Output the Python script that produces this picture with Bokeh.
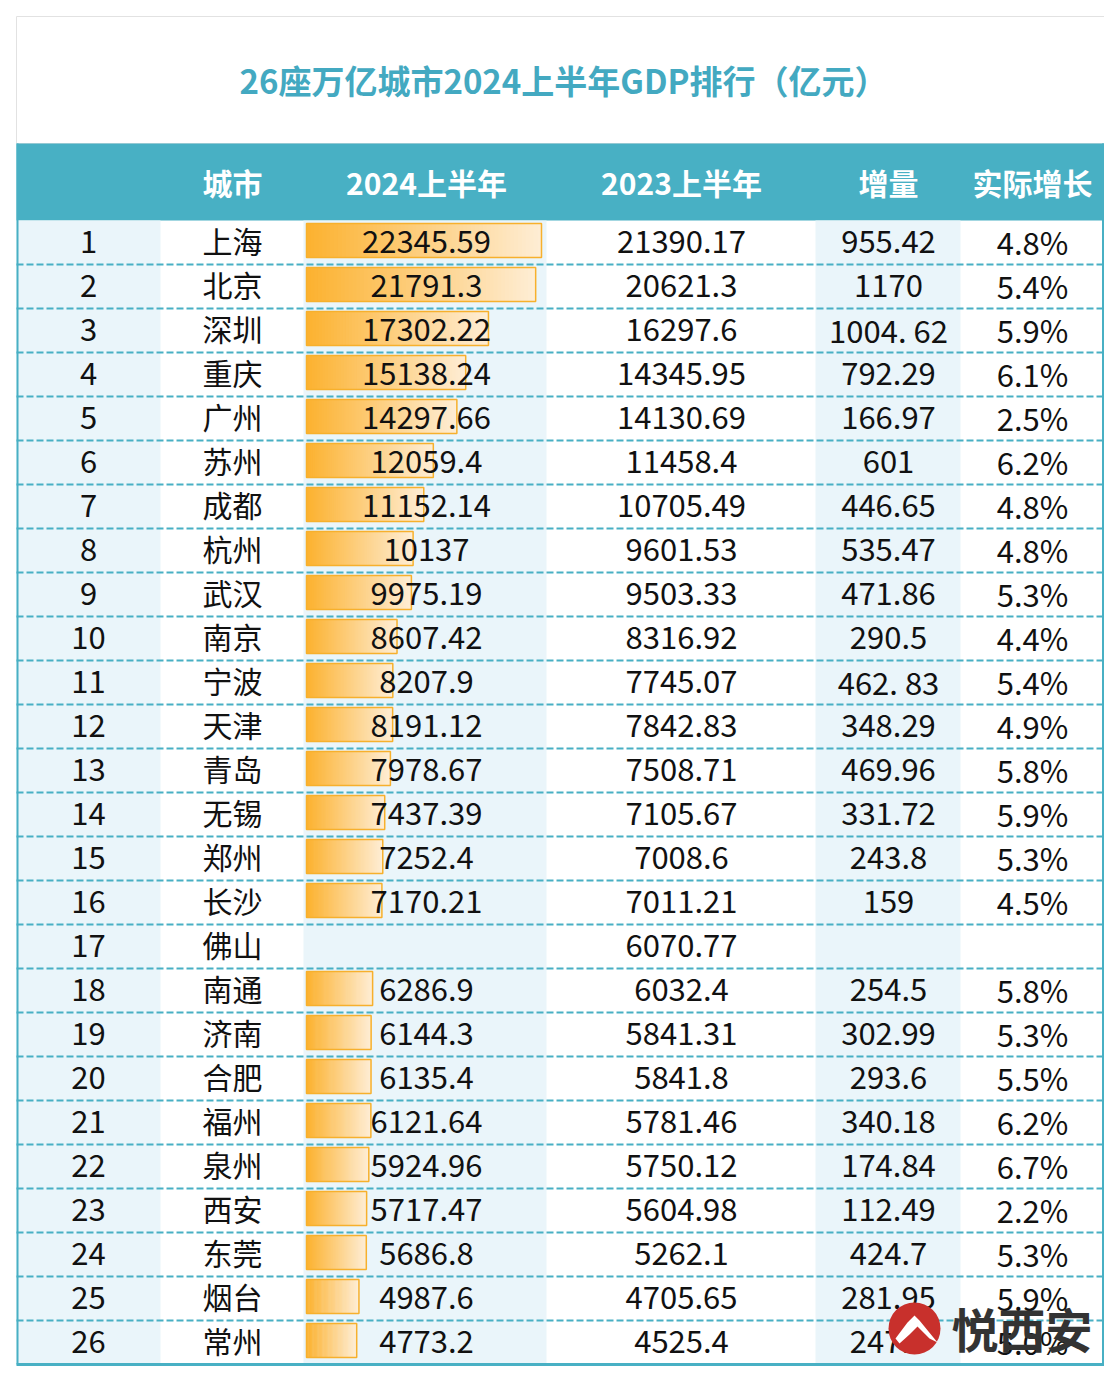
from bokeh.plotting import figure
from bokeh.models import Range1d, ColumnDataSource
from bokeh.core.properties import value
from bokeh.embed import file_html
from bokeh.resources import INLINE

title = "26座万亿城市2024上半年GDP排行（亿元）"
headers = ["城市", "2024上半年", "2023上半年", "增量", "实际增长"]
ranks = list(range(1, 27))
cities = ["上海", "北京", "深圳", "重庆", "广州", "苏州", "成都", "杭州", "武汉", "南京",
          "宁波", "天津", "青岛", "无锡", "郑州", "长沙", "佛山", "南通", "济南", "合肥",
          "福州", "泉州", "西安", "东莞", "烟台", "常州"]
gdp2024 = [22345.59, 21791.3, 17302.22, 15138.24, 14297.66, 12059.4, 11152.14, 10137, 9975.19,
           8607.42, 8207.9, 8191.12, 7978.67, 7437.39, 7252.4, 7170.21, None, 6286.9, 6144.3,
           6135.4, 6121.64, 5924.96, 5717.47, 5686.8, 4987.6, 4773.2]
gdp2023 = ["21390.17", "20621.3", "16297.6", "14345.95", "14130.69", "11458.4", "10705.49",
           "9601.53", "9503.33", "8316.92", "7745.07", "7842.83", "7508.71", "7105.67", "7008.6",
           "7011.21", "6070.77", "6032.4", "5841.31", "5841.8", "5781.46", "5750.12", "5604.98",
           "5262.1", "4705.65", "4525.4"]
increase = ["955.42", "1170", "1004. 62", "792.29", "166.97", "601", "446.65", "535.47", "471.86",
            "290.5", "462. 83", "348.29", "469.96", "331.72", "243.8", "159", "", "254.5", "302.99",
            "293.6", "340.18", "174.84", "112.49", "424.7", "281.95", "247.8"]
growth = ["4.8%", "5.4%", "5.9%", "6.1%", "2.5%", "6.2%", "4.8%", "4.8%", "5.3%", "4.4%", "5.4%",
          "4.9%", "5.8%", "5.9%", "5.3%", "4.5%", "", "5.8%", "5.3%", "5.5%", "6.2%", "6.7%",
          "2.2%", "5.3%", "5.9%", "5.0%"]
watermark = "悦西安"

# ---------------- layout / style ----------------
FONT = value("Noto Sans CJK SC")
TEAL = "#48b0c4"
TITLE_C = "#43a9c1"
LIGHT = "#eaf5fa"
W, H = 1104, 1374
L, R = 16, 1103
TABLE_TOP, ROW_H = 220, 44
n = len(ranks)
TABLE_BOT = TABLE_TOP + ROW_H * n

p = figure(width=W, height=H, x_range=Range1d(0, W), y_range=Range1d(H, 0),
           output_backend="svg", toolbar_location=None, x_axis_type=None, y_axis_type=None,
           min_border=0, outline_line_color=None, background_fill_color="white")
p.grid.visible = False

def page_to_row(y):
    return (y - TABLE_TOP) / ROW_H + 0.5
p.extra_y_ranges = {"row": Range1d(page_to_row(H), page_to_row(0))}

BAR0, BARW = 306, 235
vmax = max(v for v in gdp2024 if v is not None)
k = vmax / BARW
gstart = -BAR0 * k
p.extra_x_ranges = {"gdp": Range1d(gstart, gstart + W * k)}

# title box
p.quad(left=L, right=1104, top=16, bottom=143, fill_color="white", line_color="#e2e2e2", line_width=1)
p.text(x=[563], y=[79], text=[title], text_align="center", text_baseline="middle",
       text_font=FONT, text_font_size="33px", text_font_style="bold", text_color=TITLE_C)

# header band
p.quad(left=L, right=1104, top=143, bottom=TABLE_TOP, fill_color=TEAL, line_color=None)
col_x = [88, 232, 426, 681, 888, 1032]
p.text(x=col_x[1:], y=[181] * 5, text=headers, text_align="center", text_baseline="middle",
       text_font=FONT, text_font_size="30px", text_font_style="bold", text_color="white")

# column backgrounds
p.quad(left=[L, 303, 815], right=[160, 546, 960], top=[TABLE_TOP] * 3, bottom=[TABLE_BOT] * 3,
       fill_color=LIGHT, line_color=None)

# gradient data bars
c0 = (252, 178, 48)
c1 = (254, 237, 212)
N = 60
bl, br, bt, bb, bc = [], [], [], [], []
ol, orr, ot, ob = [], [], [], []
for r, v in zip(ranks, gdp2024):
    if v is None:
        continue
    for j in range(N):
        t = j / (N - 1)
        col = "#%02x%02x%02x" % tuple(int(round(a + (b - a) * t)) for a, b in zip(c0, c1))
        bl.append(v * j / N); br.append(min(v, v * (j + 1.6) / N))
        bt.append(r - 0.43); bb.append(r + 0.34); bc.append(col)
    ol.append(0); orr.append(v); ot.append(r - 0.43); ob.append(r + 0.34)
p.quad(left=bl, right=br, top=bt, bottom=bb, fill_color=bc, line_color=None,
       x_range_name="gdp", y_range_name="row")
p.quad(left=ol, right=orr, top=ot, bottom=ob, fill_color=None, line_color="#f7b02c", line_width=1.5,
       x_range_name="gdp", y_range_name="row")

# separators
sep = [r + 0.5 for r in ranks[:-1]]
p.segment(x0=[L] * len(sep), x1=[R] * len(sep), y0=sep, y1=sep, y_range_name="row",
          line_color=TEAL, line_width=2, line_dash="7 3")

# borders
p.segment(x0=[L + 1, R, L], x1=[L + 1, R, R + 1], y0=[143, 143, TABLE_BOT], y1=[TABLE_BOT, TABLE_BOT, TABLE_BOT],
          line_color=TEAL, line_width=[2, 3, 3])

# cell texts
def fmt(v):
    if v is None:
        return ""
    return str(int(v)) if float(v).is_integer() else str(v)

cols = [[str(x) for x in ranks], cities, [fmt(v) for v in gdp2024], gdp2023, increase, growth]
sizes = ["31px", "30px", "31px", "31px", "31px", "31px"]
dys = [-0.02, -0.06, -0.02, -0.02, -0.02, -0.02]
for cx, texts, fs, dy in zip(col_x, cols, sizes, dys):
    src = ColumnDataSource(dict(x=[cx] * n, y=[r + dy for r in ranks], t=texts))
    p.text(x="x", y="y", text="t", source=src, y_range_name="row", text_align="center",
           text_baseline="middle", text_font=FONT, text_font_size=fs, text_color="#111111")

# watermark
p.scatter(x=[914], y=[1328], size=52, marker="circle", fill_color="#c8302c", line_color=None)
p.patch(x=[895, 907, 914, 919, 937, 929, 917, 909, 899], y=[1338, 1322, 1315, 1320, 1342, 1338, 1326, 1334, 1343],
        fill_color="white", line_color=None)
p.text(x=[951], y=[1327], text=[watermark], text_align="left", text_baseline="middle",
       text_font=FONT, text_font_size="47px", text_font_style="bold", text_color="#333333")

open("out.html", "w").write(file_html(p, INLINE))
